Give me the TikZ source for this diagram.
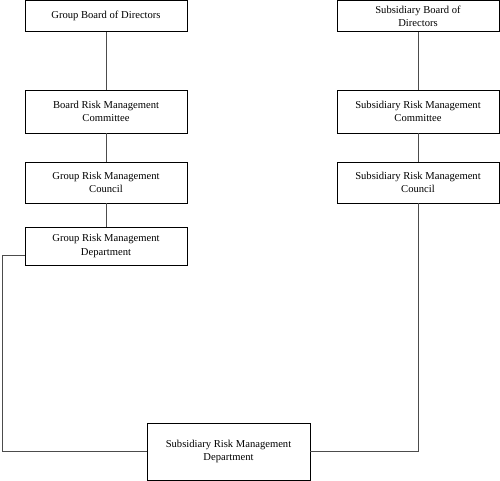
\documentclass[tikz,border=0pt]{standalone}
\usepackage{fontspec}
\setmainfont{Liberation Serif}
\begin{document}
\begin{tikzpicture}[x=1pt,y=-1pt,
  box/.style={draw=black,line width=0.8pt,minimum width=162pt,align=center,inner sep=0pt,font=\fontsize{10.6}{13.2}\selectfont},
  conn/.style={draw=black!70,line width=0.9pt}]
\useasboundingbox (0,0) rectangle (500,481);
\node[box,minimum height=31pt] (g1) at (106,16) {Group Board of Directors};
\node[box,minimum height=43pt] (g2) at (106,111.5) {Board Risk Management\\Committee};
\node[box,minimum height=41pt] (g3) at (106,182.5) {Group Risk Management\\Council};
\node[box,minimum height=38pt] (g4) at (106,246) {Group Risk Management\\Department};
\node[box,minimum height=31pt] (s1) at (418,16) {Subsidiary Board of\\Directors};
\node[box,minimum height=43pt] (s2) at (418,111.5) {Subsidiary Risk Management\\Committee};
\node[box,minimum height=41pt] (s3) at (418,182.5) {Subsidiary Risk Management\\Council};
\node[box,minimum width=163pt,minimum height=57pt] (d) at (228.5,451.5) {Subsidiary Risk Management\\Department};
\coordinate (lc) at (2,451.5);
\coordinate (rc) at (418,451.5);
\draw[conn] (g1) -- (g2);
\draw[conn] (g2) -- (g3);
\draw[conn] (g3) -- (g4);
\draw[conn] (s1) -- (s2);
\draw[conn] (s2) -- (s3);
\draw[conn] ([yshift=-9pt]g4.west) -| (lc) -- (d.west);
\draw[conn] (d.east) -- (rc) -- (s3.south);
\end{tikzpicture}
\end{document}
